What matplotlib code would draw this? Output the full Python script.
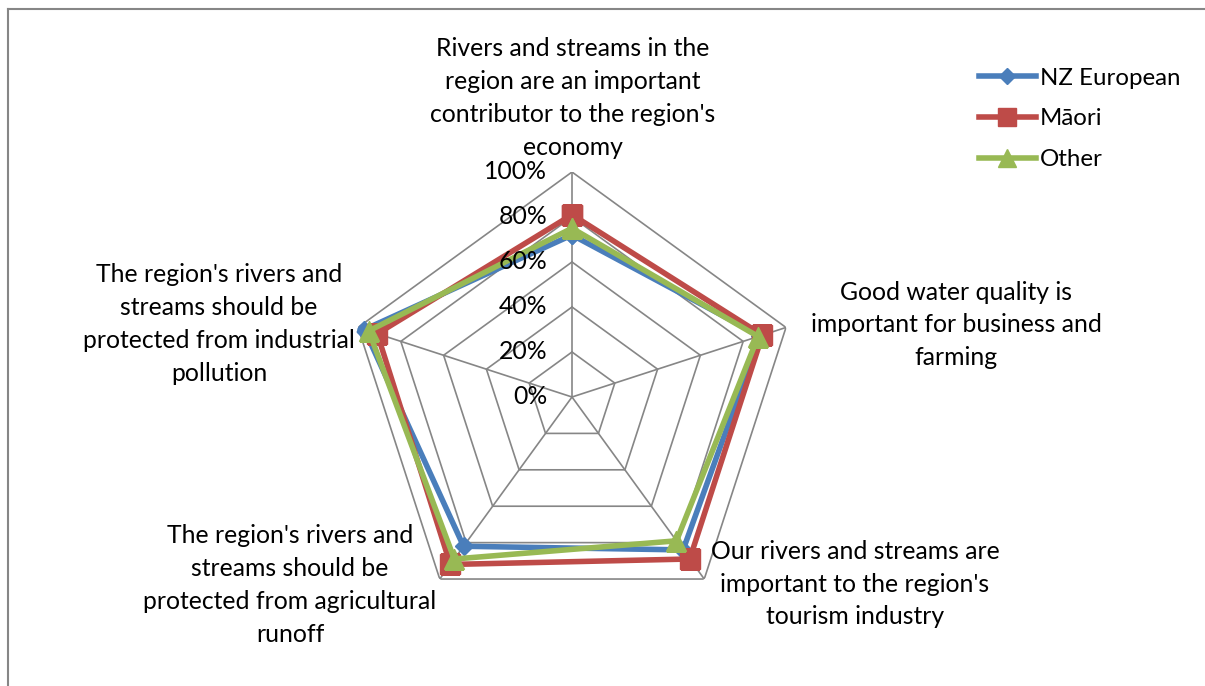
import numpy as np
import matplotlib
matplotlib.use("Agg")
import matplotlib.pyplot as plt
from matplotlib.lines import Line2D

# ── data ──────────────────────────────────────────────────────────────────────
CATEGORIES = [
    "Rivers and streams in the\nregion are an important\ncontributor to the region's\neconomy",
    "Good water quality is\nimportant for business and\nfarming",
    "Our rivers and streams are\nimportant to the region's\ntourism industry",
    "The region's rivers and\nstreams should be\nprotected from agricultural\nrunoff",
    "The region's rivers and\nstreams should be\nprotected from industrial\npollution",
]
SERIES_NAMES = ["NZ European", "Māori", "Other"]
NZ_EUROPEAN = [0.72, 0.88, 0.84, 0.82, 0.97]
MAORI = [0.81, 0.89, 0.89, 0.92, 0.91]
OTHER = [0.75, 0.87, 0.79, 0.89, 0.95]
R_TICKS = [0.0, 0.2, 0.4, 0.6, 0.8, 1.0]
R_TICK_LABELS = ["0%", "20%", "40%", "60%", "80%", "100%"]

COLORS = ["#4A7EBB", "#BE4B48", "#98B954"]
MARKERS = ["D", "s", "^"]
MSIZES = [9, 14, 14]
GRID = "#868686"

W, H = 1205, 686
plt.rcParams["font.family"] = ["Lato", "DejaVu Sans"]
FS = 17.8

fig = plt.figure(figsize=(W / 100, H / 100), dpi=100)

# chart border (top and left visible)
fig.add_artist(Line2D([8 / W, 8 / W], [0, 1 - 9 / H], transform=fig.transFigure,
                      color=GRID, lw=1.5))
fig.add_artist(Line2D([8 / W, 1], [1 - 9 / H, 1 - 9 / H], transform=fig.transFigure,
                      color=GRID, lw=1.5))

cx, cy, rad = 572, 397, 225
ax = fig.add_axes([(cx - rad) / W, (H - cy - rad) / H, 2 * rad / W, 2 * rad / H],
                  projection="polar")
ax.set_theta_offset(np.pi / 2)
ax.set_theta_direction(-1)
ax.set_ylim(0, 1)
ax.grid(False)
ax.spines["polar"].set_visible(False)
ax.set_xticks([])
ax.set_yticks([])
ax.patch.set_alpha(0)

n = len(CATEGORIES)
theta = np.arange(n) * 2 * np.pi / n
theta_closed = np.append(theta, theta[0])

# polygon grid
for r in R_TICKS[1:]:
    ax.plot(theta_closed, [r] * (n + 1), color=GRID, lw=1.2, zorder=1)
for t in theta:
    ax.plot([t, t], [0, 1], color=GRID, lw=1.2, zorder=1)

# r tick labels along top spoke
for r, lab in zip(R_TICKS, R_TICK_LABELS):
    ax.annotate(lab, xy=(0, r), xytext=(-25, 0), textcoords="offset pixels",
                ha="right", va="center", fontsize=FS, color="black", zorder=5)

# series
for vals, name, col, mk, ms in zip([NZ_EUROPEAN, MAORI, OTHER], SERIES_NAMES,
                                   COLORS, MARKERS, MSIZES):
    v = np.append(vals, vals[0])
    ax.plot(theta_closed, v, color=col, lw=4, marker=mk, markersize=ms,
            label=name, zorder=3, solid_joinstyle="miter")

# category labels
label_pos = [(573, 159, "center", "bottom"),
             (956, 325, "center", "center"),
             (855, 584, "center", "center"),
             (290, 585, "center", "center"),
             (219, 324, "center", "center")]
for txt, (x, y, ha, va) in zip(CATEGORIES, label_pos):
    fig.text(x / W, 1 - y / H, txt, ha=ha, va=va, fontsize=FS,
             multialignment="center", linespacing=1.52)

# legend
handles = [Line2D([0], [0], color=c, lw=4, marker=m, markersize=s * 0.9)
           for c, m, s in zip(COLORS, MARKERS, MSIZES)]
fig.legend(handles, SERIES_NAMES, loc="upper left",
           bbox_to_anchor=(957 / W, 1 - 46 / H), frameon=False, fontsize=FS * 0.97,
           handlelength=2.4, handletextpad=0.15, labelspacing=0.82)

fig.savefig("out.png", dpi=100)
